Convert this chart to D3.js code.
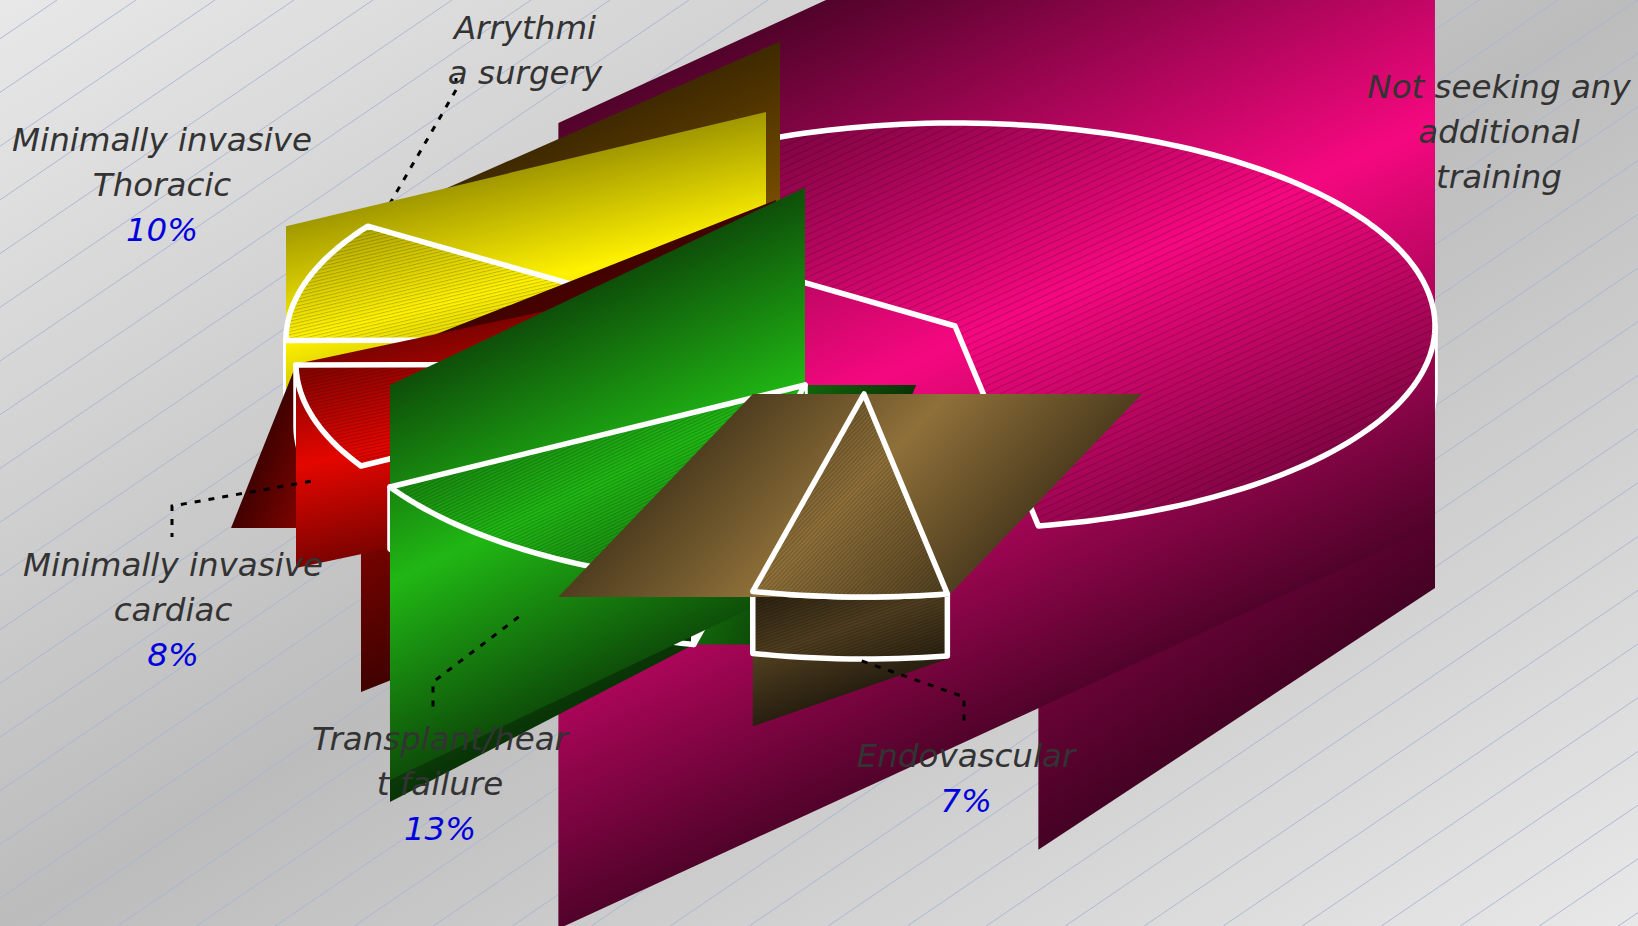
<!DOCTYPE html>
<html>
<head>
<meta charset="utf-8">
<script src="https://cdnjs.cloudflare.com/ajax/libs/d3/7.8.5/d3.min.js"></script>
<style>
  html, body { margin: 0; padding: 0; background: #ccc; overflow: hidden; }
  svg { display: block; }
  text { font-family: "DejaVu Sans", sans-serif; font-style: oblique; font-size: 32.5px; text-anchor: middle; dominant-baseline: central; }
</style>
</head>
<body>
<div id="chart"></div>
<script>
var width = 1638, height = 926;

// share of each slice (first two have no printed percent)
var categories = ['Not seeking any additional training', 'Arrythmia surgery', 'Minimally invasive Thoracic',
  'Minimally invasive cardiac', 'Transplant/heart failure', 'Endovascular'];
var values = [62.7, 0.1, 9.5, 8.3, 12.9, 6.5];
var labelLines = [['Not seeking any', 'additional', 'training'], ['Arrythmi', 'a surgery'], ['Minimally invasive', 'Thoracic'],
  ['Minimally invasive', 'cardiac'], ['Transplant/hear', 't failure'], ['Endovascular']];
var showPercent = [false, false, true, true, true, true];

// look and layout
var colors = ['#f5087f', '#e09200', '#fff200', '#e40600', '#20b714', '#8f7039'];
var edgeShade = [0.33, 0.45, 0.63, 0.55, 0.43, 0.55];
var centers = [[955, 326], [780, 330], [766, 339.5], [776, 364], [805, 385], [864, 394]];
var labelPos = [[1499, 87], [525, 28], [162, 140], [173, 565], [440, 739], [966, 756]];
var leaderEnds = [null, [[456, 90], [456, 78]], null, [[172, 506], [172, 537]], [[433, 682], [433, 713]], [[964, 697], [964, 727]]];
var leaderNudge = [null, [0, 0], null, [-2, 2], [0, 7], [12, 2]];
var rx = 480, ry = 203, depth = 62;

var svg = d3.select('#chart').append('svg').attr('width', width).attr('height', height);
var defs = svg.append('defs');

var rad = function (deg) { return deg * Math.PI / 180; };

// slices run counter clockwise from the bottom, angles from 12 o'clock as in d3.pie
var arcs = d3.pie().sort(null).startAngle(rad(170)).endAngle(rad(170 - 360))(values);

var gradId = 0;

function boundsOf(points) {
  var xs = points.map(p => p[0]), ys = points.map(p => p[1]);
  var minX = d3.min(xs), maxX = d3.max(xs), minY = d3.min(ys), maxY = d3.max(ys);
  return { minX: minX, maxX: maxX, minY: minY, maxY: maxY, w: maxX - minX, h: maxY - minY };
}

// diagonal gradient of a box: isolines run through its lower left and upper right corners
function addGradient(b, color, mids) {
  var id = 'g' + (gradId++);
  var k = 2 * b.w * b.h / (b.w * b.w + b.h * b.h);
  var base = d3.rgb(color);
  var g = defs.append('linearGradient').attr('id', id).attr('gradientUnits', 'userSpaceOnUse')
    .attr('x1', b.minX).attr('y1', b.minY).attr('x2', b.minX + b.h * k).attr('y2', b.minY + b.w * k);
  g.selectAll('stop').data(mids).enter().append('stop')
    .attr('offset', (d, i) => i / (mids.length - 1))
    .attr('stop-color', d => d3.rgb(base.r * d, base.g * d, base.b * d));
  return 'url(#' + id + ')';
}

function addHatch(b) {
  var id = 'h' + (gradId++);
  var step = Math.max(3, Math.hypot(b.w, b.h) / 150);
  var angle = Math.atan2(-b.h, b.w) * 180 / Math.PI;
  var p = defs.append('pattern').attr('id', id).attr('patternUnits', 'userSpaceOnUse')
    .attr('width', 40).attr('height', step).attr('patternTransform', 'rotate(' + angle + ' ' + b.minX + ' ' + b.minY + ')');
  p.append('rect').attr('width', 40).attr('height', 1).attr('fill', '#000').attr('opacity', 0.2);
  return 'url(#' + id + ')';
}

// the band of the gradient between its 0 and 1 isolines, cut to the box's longer side
function slabPoints(b) {
  if (b.w >= b.h) {
    return [[b.minX, b.minY], [b.maxX, b.minY - b.h], [b.maxX, b.maxY], [b.minX, b.maxY + b.h]];
  }
  return [[b.minX, b.minY], [b.minX + 2 * b.w, b.minY], [b.maxX, b.maxY], [b.minX - b.w, b.maxY]];
}

var polyLine = d3.line().curve(d3.curveLinear);

function drawFace(layer, points, color, mids) {
  var b = boundsOf(points);
  var fill = addGradient(b, color, mids);
  layer.append('path').attr('d', polyLine(slabPoints(b)) + 'Z').attr('fill', fill);
  var d = polyLine(points) + 'Z';
  layer.append('path').attr('d', d).attr('fill', fill);
  layer.append('path').attr('d', d).attr('fill', addHatch(b));
  layer.append('path').attr('d', d).attr('fill', 'none').attr('stroke', '#fff').attr('stroke-width', 5.5).attr('stroke-linejoin', 'round');
}

// background
var k0 = 2 * width * height / (width * width + height * height);
var bg = defs.append('linearGradient').attr('id', 'bg').attr('gradientUnits', 'userSpaceOnUse')
  .attr('x1', 0).attr('y1', 0).attr('x2', height * k0).attr('y2', width * k0);
bg.append('stop').attr('offset', 0).attr('stop-color', '#e8e8e8');
bg.append('stop').attr('offset', 0.5).attr('stop-color', '#bcbcbc');
bg.append('stop').attr('offset', 1).attr('stop-color', '#e8e8e8');
svg.append('rect').attr('width', width).attr('height', height).attr('fill', 'url(#bg)');

// thin slanted lines over the background
svg.append('g').selectAll('line').data(d3.range(-2, 50)).enter().append('line')
  .attr('x1', d => d * 79 + 57).attr('y1', 0)
  .attr('x2', d => d * 79 + 57 - height / 0.68).attr('y2', height)
  .attr('stroke', '#a8b4d2').attr('stroke-width', 0.9);

var wallMids = [0.28, 0.55, 0.28];

arcs.forEach(function (a, i) {
  var layer = svg.append('g').attr('class', 'slice');
  var c = centers[i], color = colors[i];
  var pt = function (angle) { return [c[0] + rx * Math.sin(angle), c[1] - ry * Math.cos(angle)]; };
  var drop = function (p) { return [p[0], p[1] + depth]; };
  var arcPoints = function (from, to) {
    var n = Math.max(2, Math.ceil((to - from) / rad(1.5)));
    return d3.range(n + 1).map(j => pt(from + (to - from) * j / n));
  };

  var lo = Math.min(a.startAngle, a.endAngle), hi = Math.max(a.startAngle, a.endAngle);

  // cut faces, only where they turn to the front
  if (Math.sin(lo) < 0) {
    drawFace(layer, [c, pt(lo), drop(pt(lo)), drop(c)], color, wallMids);
  }
  if (Math.sin(hi) > 0) {
    drawFace(layer, [c, pt(hi), drop(pt(hi)), drop(c)], color, wallMids);
  }
  // outer wall: the part of the rim on the near half of the ellipse
  [-1, 0].forEach(function (turn) {
    var from = Math.max(lo, Math.PI / 2 + 2 * Math.PI * turn);
    var to = Math.min(hi, 3 * Math.PI / 2 + 2 * Math.PI * turn);
    if (to > from) {
      var rim = arcPoints(from, to);
      drawFace(layer, rim.concat(rim.slice().reverse().map(drop)), color, wallMids);
    }
  });

  // top of the slice; a sliver this thin gets no band of its own
  if (values[i] >= 1) {
    drawFace(layer, [c].concat(arcPoints(lo, hi)), color, [edgeShade[i], 1, edgeShade[i]]);
  }

  // dashed leader from the rim to the label
  if (leaderEnds[i]) {
    var midAngle = (lo + hi) / 2;
    var rimPoint = pt(midAngle);
    var from = -Math.cos(midAngle) > 0 ? drop(rimPoint) : rimPoint;
    from = [from[0] + leaderNudge[i][0], from[1] + leaderNudge[i][1]];
    layer.append('path')
      .attr('d', polyLine([from].concat(leaderEnds[i])))
      .attr('fill', 'none').attr('stroke', '#000').attr('stroke-width', 3).attr('stroke-dasharray', '6,8');
  }
});

// labels go over everything
var labels = svg.append('g');
categories.forEach(function (name, i) {
  var lines = labelLines[i];
  var g = labels.append('g').attr('transform', 'translate(' + labelPos[i][0] + ',' + labelPos[i][1] + ')');
  g.selectAll('text').data(lines).enter().append('text')
    .attr('y', (d, j) => j * 45).attr('fill', '#333').text(d => d);
  if (showPercent[i]) {
    g.append('text').attr('y', lines.length * 45).attr('fill', '#0000dd').text(Math.round(values[i]) + '%');
  }
});
</script>
</body>
</html>
